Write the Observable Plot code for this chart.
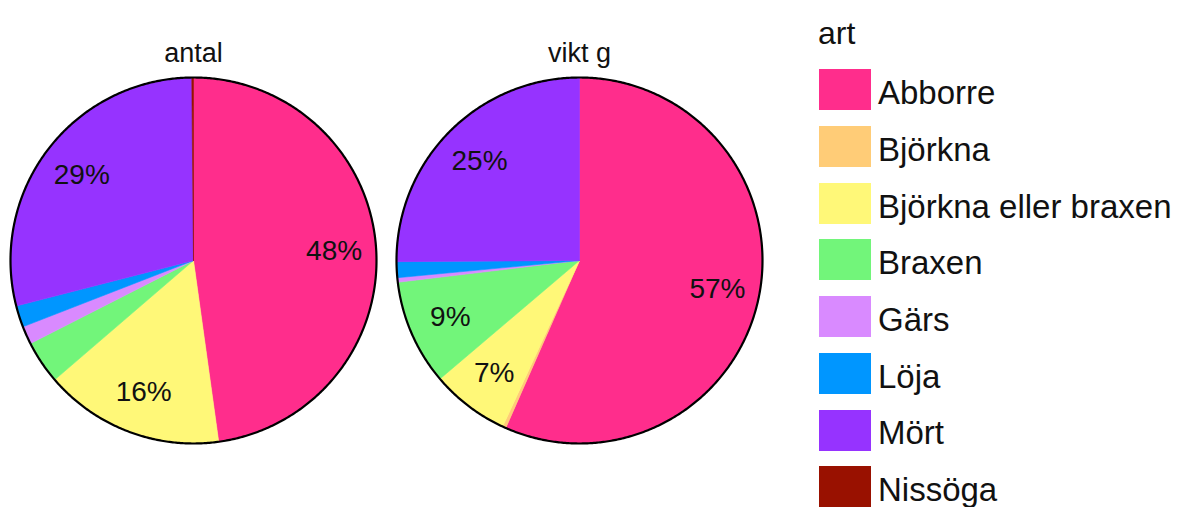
<!DOCTYPE html>
<html>
<head>
<meta charset="utf-8">
<script src="https://cdn.jsdelivr.net/npm/d3@7"></script>
<script src="https://cdn.jsdelivr.net/npm/@observablehq/plot@0.6"></script>
<style>
  html, body { margin: 0; padding: 0; background: #fff; }
  #wrap { position: relative; width: 1178px; height: 507px; overflow: hidden; font-family: "Liberation Sans", Arial, Helvetica, sans-serif; }
  #chart { position: absolute; left: 0; top: 0; }
  .lg-title { position: absolute; left: 818px; top: 17px; font-size: 32px; line-height: 1; color: #111; }
  .lg-sw { position: absolute; left: 819px; width: 52px; height: 41px; }
  .lg-lab { position: absolute; left: 878px; font-size: 33px; line-height: 1; color: #111; white-space: nowrap; }
</style>
</head>
<body>
<div id="wrap"><div id="chart"></div></div>
<script>
// ---- data ----
const arter = ["Abborre", "Björkna", "Björkna eller braxen", "Braxen", "Gärs", "Löja", "Mört", "Nissöga"];
const matt = ["antal", "vikt g"];
const andelAntal = [47.8, 0, 15.9, 3.8, 1.6, 1.9, 28.85, 0.15];   // percent
const andelVikt  = [56.6, 0.3, 6.9, 9.3, 0.4, 1.4, 25.1, 0];      // percent
const farger = ["#ff2d8c", "#ffcc77", "#fff878", "#72f57a", "#d98aff", "#0096ff", "#9633ff", "#991100"];
const legendTitel = "art";

// ---- build slice polygons (angles from the values) ----
const serier = [andelAntal, andelVikt];
const slices = [];
const labels = [];
const outline = [];
matt.forEach((m, mi) => {
  const vals = serier[mi];
  const total = d3.sum(vals);
  let cum = 0;
  arter.forEach((a, i) => {
    const v = vals[i];
    if (v > 0) {
      const a0 = cum / total * 2 * Math.PI;
      const a1 = (cum + v) / total * 2 * Math.PI;
      const key = m + "|" + a;
      const n = Math.max(2, Math.ceil((a1 - a0) / (Math.PI / 360)));
      slices.push({matt: m, art: a, key, x: 0, y: 0});
      for (let k = 0; k <= n; k++) {
        const t = a0 + (a1 - a0) * k / n;
        slices.push({matt: m, art: a, key, x: Math.sin(t), y: Math.cos(t)});
      }
      slices.push({matt: m, art: a, key, x: 0, y: 0});
      const v100 = v / total * 100;
      if (v100 >= 5) {
        const mid = (a0 + a1) / 2;
        labels.push({matt: m, x: 0.77 * Math.sin(mid), y: 0.77 * Math.cos(mid), text: Math.round(v100) + "%"});
      }
    }
    cum += v;
  });
  for (let k = 0; k <= 720; k++) {
    const t = k / 720 * 2 * Math.PI;
    outline.push({matt: m, x: Math.sin(t), y: Math.cos(t)});
  }
});

const font = '"Liberation Sans", Arial, Helvetica, sans-serif';

const plot = Plot.plot({
  width: 790,
  height: 507,
  marginLeft: 10,
  marginRight: 28,
  marginTop: 77,
  marginBottom: 64,
  x: {domain: [-1, 1], axis: null},
  y: {domain: [-1, 1], axis: null},
  fx: {domain: matt, axis: null, paddingInner: 0.052, paddingOuter: 0},
  color: {type: "ordinal", domain: arter, range: farger},
  style: {fontFamily: font, background: "white", color: "#111"},
  marks: [
    Plot.line(slices, {fx: "matt", x: "x", y: "y", z: "key", fill: "art", stroke: "art", strokeWidth: 0.6, curve: "linear"}),
    Plot.line(outline, {fx: "matt", x: "x", y: "y", stroke: "black", strokeWidth: 2.2, curve: "linear"}),
    Plot.text(labels, {fx: "matt", x: "x", y: "y", text: "text", fontSize: 28, fill: "#111"}),
    Plot.text(matt, {fx: d => d, text: d => d, frameAnchor: "top", dy: -35, fontSize: 27, fill: "#111"})
  ]
});
document.getElementById("chart").appendChild(plot);

// ---- legend (from the plot's colour scale) ----
const cs = plot.scale("color");
const wrap = document.getElementById("wrap");
const t = document.createElement("div");
t.className = "lg-title";
t.textContent = legendTitel;
wrap.appendChild(t);
cs.domain.forEach((a, i) => {
  const top = 69.3 + 56.7 * i;
  const sw = document.createElement("div");
  sw.className = "lg-sw";
  sw.style.top = top + "px";
  sw.style.background = cs.apply(a);
  wrap.appendChild(sw);
  const lab = document.createElement("div");
  lab.className = "lg-lab";
  lab.style.top = (top + 6.8) + "px";
  lab.textContent = a;
  wrap.appendChild(lab);
});
</script>
</body>
</html>
